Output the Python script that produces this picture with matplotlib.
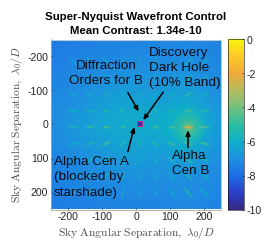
"""Super-Nyquist wavefront control contrast map with annotated stars."""

import numpy as np
import matplotlib
matplotlib.use("Agg")
import matplotlib.pyplot as plt
from matplotlib.colors import LinearSegmentedColormap

plt.rcParams["font.family"] = ["Liberation Sans", "DejaVu Sans"]
plt.rcParams["mathtext.fontset"] = "cm"

# coarse log10 contrast background
bg_pos = [-250, -200, -150, -100, -50, 0, 50, 100, 150, 200, 250]
bg_levels = [
    [-7.6, -7.5, -7.5, -7.4, -7.4, -7.3, -7.3, -7.3, -7.2, -7.3, -7.4],
    [-7.5, -7.4, -7.3, -7.3, -7.2, -7.2, -7.2, -7.2, -7.1, -7.2, -7.3],
    [-7.4, -7.3, -7.2, -7.1, -7.0, -6.9, -7.0, -7.0, -6.9, -7.1, -7.2],
    [-7.3, -7.2, -7.0, -6.8, -6.7, -6.6, -6.7, -6.7, -6.5, -6.9, -7.1],
    [-7.2, -7.0, -6.8, -6.5, -6.3, -6.3, -6.4, -6.3, -6.0, -6.5, -7.0],
    [-7.1, -6.8, -6.5, -6.3, -6.1, -6.1, -6.1, -5.9, -5.3, -6.1, -6.8],
    [-7.2, -7.0, -6.7, -6.5, -6.3, -6.3, -6.4, -6.2, -5.9, -6.4, -7.0],
    [-7.3, -7.2, -7.0, -6.8, -6.7, -6.6, -6.7, -6.7, -6.4, -6.8, -7.1],
    [-7.4, -7.3, -7.2, -7.1, -7.0, -6.9, -7.0, -7.0, -6.9, -7.1, -7.2],
    [-7.5, -7.4, -7.3, -7.3, -7.2, -7.2, -7.2, -7.2, -7.1, -7.2, -7.3],
    [-7.6, -7.5, -7.5, -7.4, -7.4, -7.3, -7.3, -7.3, -7.2, -7.3, -7.4],
]

# diffraction order spots: levels per row (y) and column (x)
order_x = [-183, -135, -87, -39, 9, 57, 105, 153, 201]
order_y = [-184, -136, -88, -40, 8, 56, 104, 152, 200]
order_levels = [
    [-6.6, -6.4, -6.4, -6.5, -6.6, -6.5, -6.5, -5.9, -6.5],
    [-6.4, -6.3, -6.2, -6.3, -6.5, -6.3, -6.2, -5.6, -6.2],
    [-6.2, -6.0, -5.8, -5.9, -6.2, -6.0, -5.8, -5.1, -5.8],
    [-6.0, -5.7, -5.2, -5.1, -5.6, -5.5, -5.2, -4.6, -5.2],
    [-5.5, -4.9, -4.5, -4.7, -5.1, -4.7, -4.5, -2.4, -4.4],
    [-5.9, -5.4, -4.7, -5.2, -5.4, -5.2, -4.8, -4.4, -4.8],
    [-6.2, -5.9, -5.6, -5.8, -6.0, -5.7, -5.6, -5.2, -5.6],
    [-6.4, -6.2, -6.1, -5.9, -6.2, -6.1, -6.1, -5.5, -6.1],
    [-6.5, -6.4, -6.3, -6.3, -6.4, -6.3, -6.2, -5.2, -6.1],
]

# halo round Alpha Cen B
halo_x, halo_y = 153, 8
halo_radius = [48, 34, 22, 12, 5]
halo_level = [-5.2, -4.7, -4.3, -3.8, -2.6]

# colour scale anchors, one per decade from -10 to 0
cmap_colors = ["#352a87", "#2a3fc8", "#1f6ee6", "#1e90e0", "#0fb0c8", "#2cbca0",
               "#72c080", "#b4bc60", "#f0aa3c", "#fcc828", "#f9f40f"]
cbar_ticks = [0, -2, -4, -6, -8, -10]
axis_ticks = [-200, -100, 0, 100, 200]

W, H = 269, 243
fig = plt.figure(figsize=(W / 100, H / 100), dpi=100)
ax = fig.add_axes([51 / W, 1 - 209.5 / H, 170 / W, 170 / H])
cax = fig.add_axes([228 / W, 1 - 209.5 / H, 16 / W, 170 / H])

cmap = LinearSegmentedColormap.from_list("parula_like", cmap_colors)
norm = plt.Normalize(-10, 0)
im = ax.imshow(bg_levels, cmap=cmap, norm=norm, interpolation="bicubic",
               extent=[bg_pos[0] - 25, bg_pos[-1] + 25, bg_pos[-1] + 25, bg_pos[0] - 25])

# halo first, then the order streaks on top
for r, lev in zip(halo_radius, halo_level):
    ax.scatter([halo_x], [halo_y], s=(r * 0.34 * 1.44) ** 2, color=cmap(norm(lev)),
               alpha=0.45, lw=0, zorder=2)

for j, y in enumerate(order_y):
    for i, x in enumerate(order_x):
        r = np.hypot(x, y)
        ux, uy = (x / r, y / r) if r > 30 else (1.0, 0.0)
        half = 5 + 0.04 * r
        c = cmap(norm(order_levels[j][i]))
        ax.plot([x - ux * half, x + ux * half], [y - uy * half, y + uy * half],
                color=c, lw=2.2, alpha=0.35, solid_capstyle="round", zorder=3)
        ax.plot([x - ux * half * 0.6, x + ux * half * 0.6], [y - uy * half * 0.6, y + uy * half * 0.6],
                color=c, lw=1.1, alpha=0.8, solid_capstyle="round", zorder=3)

# blocked star marker
ax.scatter([12], [0], s=20, marker="s", color="#b0308f", lw=0, zorder=4)
ax.scatter([12], [0], s=7, marker="s", color="#3a2b9e", lw=0, zorder=5)

ax.set_xlim(-250, 250)
ax.set_ylim(250, -250)
ax.set_xticks(axis_ticks)
ax.set_yticks(axis_ticks)
ax.tick_params(direction="in", length=1.6, width=0.4, labelsize=7.6, pad=2, colors="0.15")
for side, s in ax.spines.items():
    s.set_linewidth(0.6)
    s.set_color("0.65" if side in ("left", "bottom") else "0.85")

label = r"$\mathrm{Sky\ Angular\ Separation,}\ \lambda_0/D$"
ax.set_xlabel(label, fontsize=8.3, color="0.3", labelpad=2)
ax.set_ylabel(label, fontsize=8.3, color="0.3", labelpad=1.5)
ax.set_title("Super-Nyquist Wavefront Control\nMean Contrast: 1.34e-10",
             fontsize=8.2, fontweight="bold", pad=4, linespacing=1.55)

notes = [
    ("Diffraction\nOrders for B", -88, -150, "center"),
    ("Discovery\nDark Hole\n(10% Band)", 38, -166, "left"),
    ("Alpha Cen A\n(blocked by\nstarshade)", -241, 155, "left"),
    ("Alpha\nCen B", 106, 115, "left"),
]
for txt, x, y, ha in notes:
    ax.text(x, y, txt, fontsize=9.7, ha=ha, va="center", color="#0a0a14", linespacing=1.38, zorder=6)

arrows = [
    ((-24, -94), (8, -38)),
    ((80, -95), (21, -13)),
    ((-24, 80), (-5, 7)),
    ((153, 68), (153, 17)),
]
for start, tip in arrows:
    ax.annotate("", xy=tip, xytext=start, zorder=6,
                arrowprops=dict(arrowstyle="-|>,head_width=0.13,head_length=0.3", color="black",
                                lw=1.1, shrinkA=0, shrinkB=0))

cb = fig.colorbar(im, cax=cax, ticks=cbar_ticks)
cb.ax.tick_params(direction="in", length=1.6, width=0.4, labelsize=7.6, pad=2, colors="0.15")
cb.outline.set_linewidth(0.4)
cb.ax.set_yticklabels([str(t) for t in cbar_ticks])
ax.set_xticklabels([str(t) for t in axis_ticks])
ax.set_yticklabels([str(t) for t in axis_ticks])

fig.savefig("out.png", dpi=100)
plt.close(fig)
